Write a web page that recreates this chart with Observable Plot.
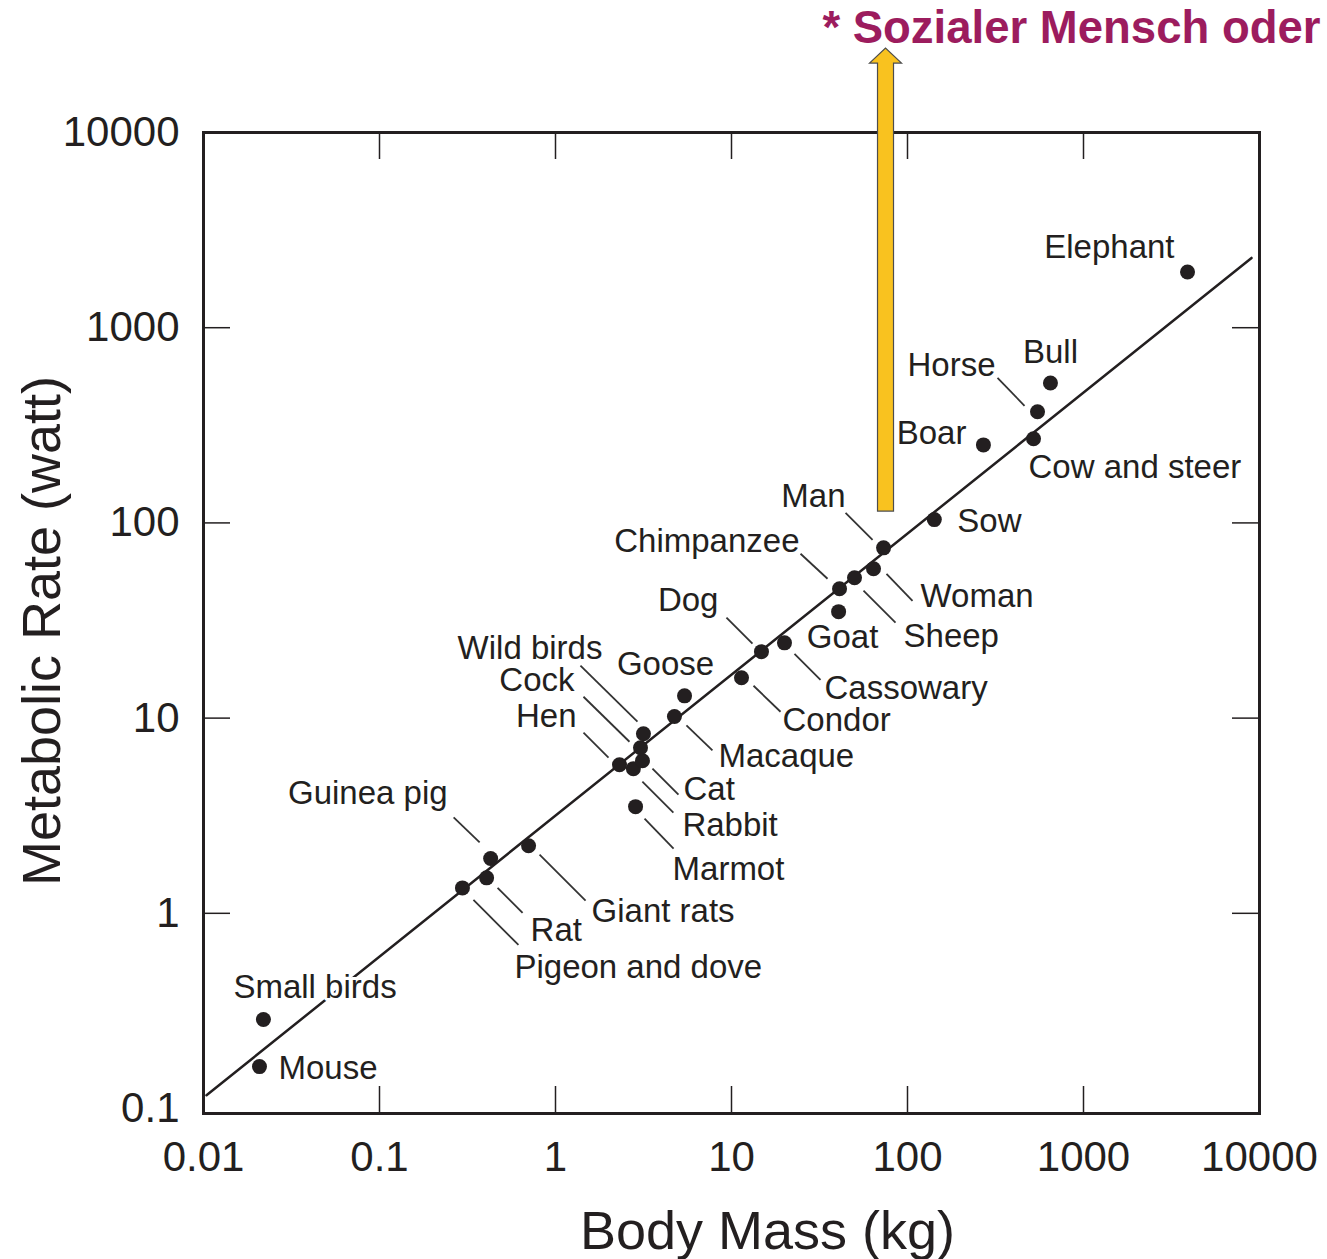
<!DOCTYPE html>
<html>
<head>
<meta charset="utf-8">
<script src="https://cdn.jsdelivr.net/npm/d3@7"></script>
<script src="https://cdn.jsdelivr.net/npm/@observablehq/plot@0.6"></script>
<style>
  body { margin: 0; background: #fff; }
  #chart svg { display: block; }
</style>
</head>
<body>
<div id="chart"></div>
<script>
// ---------- data ----------
const animals = ["Mouse","Small birds","Pigeon and dove","Rat","Guinea pig","Giant rats","Hen","Rabbit","Cat","Cock","Wild birds","Marmot","Macaque","Goose","Condor","Dog","Cassowary","Goat","Chimpanzee","Sheep","Woman","Man","Sow","Boar","Cow and steer","Horse","Bull","Elephant"];
const bodyMassKg = [0.0208,0.0219,0.296,0.406,0.428,0.703,2.31,2.77,3.12,3.04,3.16,2.85,4.74,5.41,11.4,14.8,20.0,40.6,41.1,50.0,64.1,73.1,142,270,520,548,649,3900];
const metabolicRateW = [0.164,0.286,1.35,1.52,1.91,2.22,5.77,5.51,6.05,7.05,8.32,3.52,10.2,13.0,16.1,21.9,24.3,35.1,46.0,52.4,58.2,74.5,104,251,270,371,521,1930];

// fitted (Kleiber) line end points
const fitMassKg = [0.0104, 9010];
const fitRateW = [0.117, 2277];

const xTickValues = [0.01, 0.1, 1, 10, 100, 1000, 10000];
const yTickValues = [0.1, 1, 10, 100, 1000, 10000];
const xInnerTicks = [0.1, 1, 10, 100, 1000];
const yInnerTicks = [1, 10, 100, 1000];

const titleText = "* Sozialer Mensch oder";
const xTitle = "Body Mass (kg)";
const yTitle = "Metabolic Rate (watt)";

// annotation arrow base (at the "Man" mass)
const arrowMassKg = 75;
const arrowRateW = 115;

// ---------- layout (pixel offsets of labels and leader lines from each point) ----------
const labelLayout = {
  "Elephant":        {dx: -13, dy: -25, anchor: "end"},
  "Bull":            {dx: 0,   dy: -31, anchor: "middle"},
  "Horse":           {dx: -42, dy: -46, anchor: "end",   leader: [-40,-34,-13,-6]},
  "Boar":            {dx: -17, dy: -11, anchor: "end"},
  "Cow and steer":   {dx: -5,  dy: 29,  anchor: "start"},
  "Sow":             {dx: 23,  dy: 2,   anchor: "start"},
  "Man":             {dx: -38, dy: -51, anchor: "end",   leader: [-38,-35,-11,-8]},
  "Chimpanzee":      {dx: -40, dy: -47, anchor: "end",   leader: [-39,-35,-12,-10]},
  "Woman":           {dx: 47,  dy: 28,  anchor: "start", leader: [13,5,39,32]},
  "Sheep":           {dx: 49,  dy: 59,  anchor: "start", leader: [9,13,41,45]},
  "Goat":            {dx: 4,   dy: 26,  anchor: "middle"},
  "Dog":             {dx: -43, dy: -51, anchor: "end",   leader: [-35,-34,-9,-8]},
  "Cassowary":       {dx: 40,  dy: 46,  anchor: "start", leader: [10,11,36,37]},
  "Condor":          {dx: 41,  dy: 43,  anchor: "start", leader: [12,8,39,34]},
  "Goose":           {dx: -19, dy: -31, anchor: "middle"},
  "Macaque":         {dx: 44,  dy: 40,  anchor: "start", leader: [12,9,38,34]},
  "Wild birds":      {dx: -41, dy: -85, anchor: "end",   leader: [-63,-68,-6,-12]},
  "Cock":            {dx: -66, dy: -67, anchor: "end",   leader: [-57,-51,-11,-6]},
  "Hen":             {dx: -43, dy: -48, anchor: "end",   leader: [-36,-32,-11,-7]},
  "Cat":             {dx: 41,  dy: 29,  anchor: "start", leader: [10,8,36,34]},
  "Rabbit":          {dx: 49,  dy: 57,  anchor: "start", leader: [9,13,40,44]},
  "Marmot":          {dx: 37,  dy: 63,  anchor: "start", leader: [9,12,38,42]},
  "Guinea pig":      {dx: -43, dy: -65, anchor: "end",   leader: [-37,-41,-11,-16]},
  "Giant rats":      {dx: 63,  dy: 66,  anchor: "start", leader: [11,9,57,55]},
  "Rat":             {dx: 44,  dy: 53,  anchor: "start", leader: [11,10,36,35]},
  "Pigeon and dove": {dx: 52,  dy: 80,  anchor: "start", leader: [11,12,56,57]},
  "Small birds":     {dx: -30, dy: -32, anchor: "start"},
  "Mouse":           {dx: 19,  dy: 2,   anchor: "start"}
};

// ---------- plot geometry ----------
const W = 1327, H = 1259;
const mL = 203, mR = 68, mT = 132, mB = 146;
const frameW = W - mL - mR, frameH = H - mT - mB;
const tickLen = 27;
const xDomain = [0.01, 10000];
const yDomain = [0.0943, 10000];

const xs = Plot.scale({x: {type: "log", domain: xDomain, range: [mL, W - mR]}});
const ys = Plot.scale({y: {type: "log", domain: yDomain, range: [H - mB, mT]}});

const points = animals.map((name, i) => ({name, mass: bodyMassKg[i], rate: metabolicRateW[i]}));

const labels = points.map(p => {
  const L = labelLayout[p.name];
  return {
    name: p.name,
    anchor: L.anchor,
    x: xs.invert(xs.apply(p.mass) + L.dx),
    y: ys.invert(ys.apply(p.rate) + L.dy)
  };
});

const leaders = points.filter(p => labelLayout[p.name].leader).map(p => {
  const [a, b, c, d] = labelLayout[p.name].leader;
  const px = xs.apply(p.mass), py = ys.apply(p.rate);
  return {
    x1: xs.invert(px + a), y1: ys.invert(py + b),
    x2: xs.invert(px + c), y2: ys.invert(py + d)
  };
});

const fitLine = fitMassKg.map((m, i) => ({mass: m, rate: fitRateW[i]}));

const blockArrow = {
  draw(ctx, l) {
    const w = 8, hw = 16, hl = 15;
    ctx.moveTo(-w, 0);
    ctx.lineTo(-w, -l + hl);
    ctx.lineTo(-hw, -l + hl);
    ctx.lineTo(0, -l);
    ctx.lineTo(hw, -l + hl);
    ctx.lineTo(w, -l + hl);
    ctx.lineTo(w, 0);
    ctx.closePath();
  }
};

const ink = "#231f20";
const labelFont = 33;

const labelMark = anchor => Plot.text(labels.filter(d => d.anchor === anchor), {
  x: "x", y: "y", text: "name", textAnchor: anchor, lineAnchor: "middle",
  fontSize: labelFont, fill: ink, stroke: "white", strokeWidth: 6, paintOrder: "stroke"
});

const chart = Plot.plot({
  width: W,
  height: H,
  marginLeft: mL, marginRight: mR, marginTop: mT, marginBottom: mB,
  style: {fontFamily: "'Liberation Sans', Arial, Helvetica, sans-serif", fontSize: "42px", color: ink, background: "white"},
  x: {type: "log", domain: xDomain, ticks: xTickValues, tickFormat: d => String(d), tickSize: 0, tickPadding: 28, label: null},
  y: {type: "log", domain: yDomain, ticks: yTickValues, tickFormat: d => String(d), tickSize: 0, tickPadding: 24, label: null},
  marks: [
    // inner ticks on all four sides
    Plot.ruleX(xInnerTicks, {stroke: ink, strokeWidth: 1.5, insetTop: frameH - tickLen}),
    Plot.ruleX(xInnerTicks, {stroke: ink, strokeWidth: 1.5, insetBottom: frameH - tickLen}),
    Plot.ruleY(yInnerTicks, {stroke: ink, strokeWidth: 1.5, insetRight: frameW - tickLen}),
    Plot.ruleY(yInnerTicks, {stroke: ink, strokeWidth: 1.5, insetLeft: frameW - tickLen}),
    // fitted line
    Plot.line(fitLine, {x: "mass", y: "rate", stroke: ink, strokeWidth: 2.5}),
    // labels (with white halo)
    labelMark("start"),
    labelMark("end"),
    labelMark("middle"),
    // leader lines
    Plot.link(leaders, {x1: "x1", y1: "y1", x2: "x2", y2: "y2", stroke: "#333", strokeWidth: 1.8}),
    // data points
    Plot.dot(points, {x: "mass", y: "rate", r: 7.5, fill: ink, stroke: "none"}),
    // frame
    Plot.frame({stroke: ink, strokeWidth: 3}),
    // highlight arrow
    Plot.vector([{mass: arrowMassKg, rate: arrowRateW}], {
      x: "mass", y: "rate", length: 463, rotate: 0, anchor: "start", shape: blockArrow,
      fill: "#f9c21f", stroke: "#4d4d4d", strokeWidth: 1.2, strokeLinejoin: "miter"
    }),
    // title (top right)
    Plot.text([titleText], {
      frameAnchor: "top-right", text: d => d, textAnchor: "end", lineAnchor: "middle",
      dx: 61, dy: -104, fontSize: 45.5, fontWeight: "bold", fill: "#9c1c5e"
    }),
    // axis titles
    Plot.text([xTitle], {
      frameAnchor: "bottom", text: d => d, textAnchor: "middle", lineAnchor: "middle",
      dx: 36, dy: 118, fontSize: 54, fill: ink
    }),
    Plot.text([yTitle], {
      frameAnchor: "left", text: d => d, textAnchor: "middle", lineAnchor: "middle",
      rotate: -90, dx: -161, dy: 8, fontSize: 54, fill: ink
    })
  ]
});

document.getElementById("chart").appendChild(chart);
</script>
</body>
</html>
